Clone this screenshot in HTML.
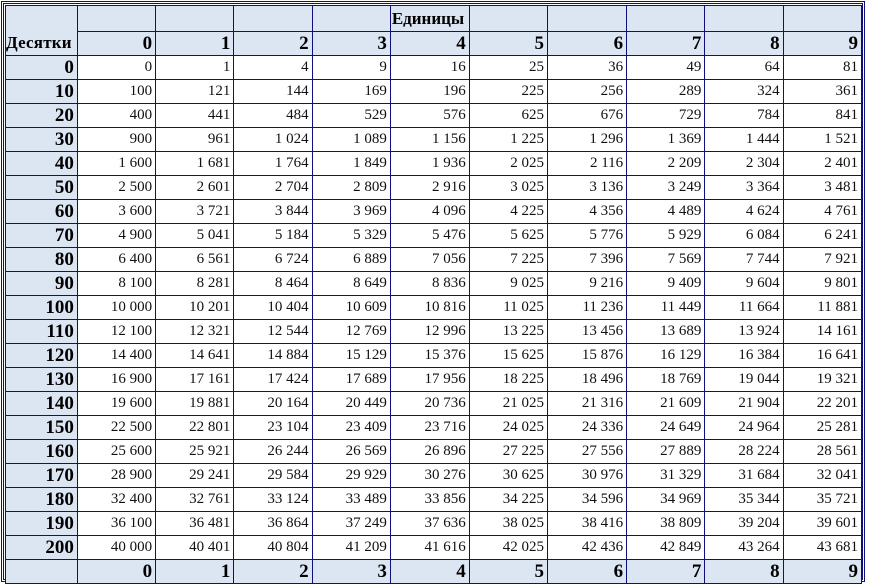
<!DOCTYPE html>
<html><head><meta charset="utf-8"><style>
body{margin:0;background:#fff;width:869px;height:587px;overflow:hidden}
#wrap{position:absolute;left:1px;top:1px;width:864px;height:581px;border:3px double #10107a;box-sizing:border-box}
table{position:absolute;left:1px;top:1px;border-collapse:collapse;table-layout:fixed;font-family:"Liberation Serif","Noto Serif CJK SC",serif}
td{border:1px solid #10107a;padding:0 3px 0 0;text-align:right;font-size:15px;color:#111;height:23px;white-space:nowrap;overflow:hidden}
td.h{background:#dce6f2;font-weight:bold;font-size:19px;color:#000}
tr.r1 td{height:25px}
</style></head><body>
<div id="wrap">
<table id="t">
<colgroup><col style="width:72px"><col style="width:79px"><col style="width:79px"><col style="width:79px"><col style="width:79px"><col style="width:79px"><col style="width:79px"><col style="width:80px"><col style="width:79px"><col style="width:79px"><col style="width:79px"></colgroup>
<tbody id="tb"></tbody></table></div>
<script>
const units=[0,1,2,3,4,5,6,7,8,9];
const tens=[0,10,20,30,40,50,60,70,80,90,100,110,120,130,140,150,160,170,180,190,200];
const tb=document.getElementById('tb');
function fmt(v){return String(v).replace(/\B(?=(\d{3})+(?!\d))/g,'\u00a0');}
let r=document.createElement('tr');r.className='r1';
let c=document.createElement('td');c.className='h';c.rowSpan=2;c.textContent='Десятки';c.style.verticalAlign='bottom';c.style.textAlign='left';c.style.padding='0 0 2px 0';c.style.fontSize='17px';c.style.letterSpacing='0.2px';


r.appendChild(c);
units.forEach((u,i)=>{const d=document.createElement('td');d.className='h';
if(i===4){d.textContent='Единицы';d.style.textAlign='left';d.style.padding='0 0 0 1px';d.style.fontSize='17px';
}else{}

r.appendChild(d);});
tb.appendChild(r);
function unitRow(name){const rr=document.createElement('tr');
units.forEach(u=>{const d=document.createElement('td');d.className='h';d.textContent=u;


rr.appendChild(d);});return rr;}
tb.appendChild(unitRow('unit-label'));
tens.forEach(t=>{const rr=document.createElement('tr');
const h=document.createElement('td');h.className='h';h.textContent=t;


rr.appendChild(h);
units.forEach(u=>{const d=document.createElement('td');d.textContent=fmt((t+u)*(t+u));


rr.appendChild(d);});
tb.appendChild(rr);});
const f=document.createElement('tr');
const e=document.createElement('td');e.className='h';


f.appendChild(e);
units.forEach(u=>{const d=document.createElement('td');d.className='h';d.textContent=u;


f.appendChild(d);});
tb.appendChild(f);
</script>
</body></html>
